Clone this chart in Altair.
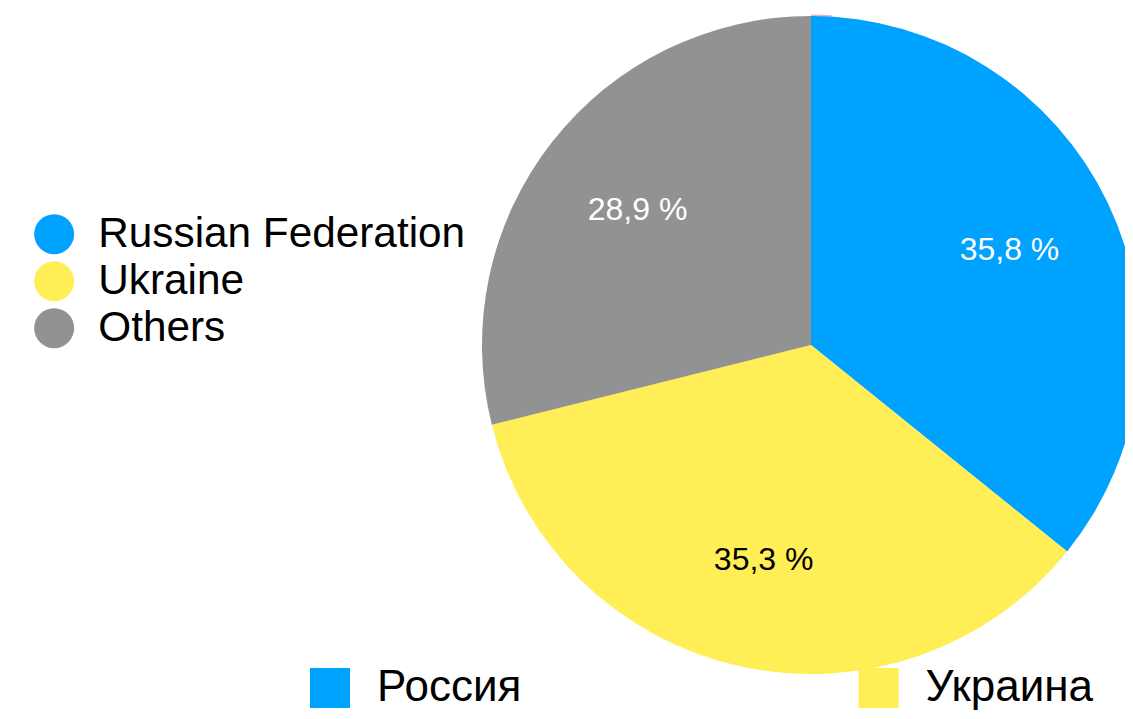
import altair as alt
import pandas as pd

# Data
categories = ["Russian Federation", "Ukraine", "Others"]
shares = [35.8, 35.3, 28.9]
share_labels = ["35,8 %", "35,3 %", "28,9 %"]
label_colors = ["#ffffff", "#000000", "#ffffff"]
slice_colors = ["#00A2FF", "#FFEE55", "#929292"]
ru_names = ["Россия", "Украина"]
ru_colors = ["#00A2FF", "#FFEE55"]

FONT = "Liberation Sans"
CX, CY, R = 803, 337, 329

df = pd.DataFrame({
    "cat": categories,
    "share": shares,
    "label": share_labels,
    "lcolor": label_colors,
    "idx": list(range(len(categories))),
})

color_scale = alt.Scale(domain=categories, range=slice_colors)

outline = alt.Chart(pd.DataFrame({"v": [1]})).mark_arc(
    radius=R + 1.5, color="#eea7ae", opacity=0.9
).encode(
    theta=alt.Theta("v:Q", stack=True),
    x=alt.value(CX), y=alt.value(CY),
)

pie = alt.Chart(df).mark_arc(radius=R, strokeWidth=0).encode(
    theta=alt.Theta("share:Q", stack=True),
    order=alt.Order("idx:Q"),
    color=alt.Color(
        "cat:N", scale=color_scale,
        legend=alt.Legend(
            title=None, orient="none", legendX=25, legendY=205,
            direction="vertical", symbolType="circle", symbolSize=1600,
            symbolStrokeWidth=0, labelFont=FONT, labelFontSize=42.3,
            labelColor="#000000", labelOffset=23, rowPadding=4,
            padding=0, labelLimit=600,
        ),
    ),
    x=alt.value(CX), y=alt.value(CY),
)

text = alt.Chart(df).mark_text(radius=220, font=FONT, fontSize=32).encode(
    theta=alt.Theta("share:Q", stack=True),
    order=alt.Order("idx:Q"),
    text="label:N",
    color=alt.Color("lcolor:N", scale=None),
    x=alt.value(CX), y=alt.value(CY),
)

ru_legend = alt.Chart(pd.DataFrame({"ru": ru_names})).mark_square(
    opacity=0, size=1
).encode(
    fill=alt.Fill(
        "ru:N", scale=alt.Scale(domain=ru_names, range=ru_colors),
        legend=alt.Legend(
            title=None, orient="none", legendX=300, legendY=658,
            direction="horizontal", columns=2, columnPadding=334.5,
            symbolType="square", symbolSize=1600, symbolStrokeWidth=0,
            symbolOpacity=1, labelFont=FONT, labelFontSize=44,
            labelColor="#000000", labelOffset=25, padding=0, labelLimit=600,
        ),
    ),
    x=alt.value(10), y=alt.value(10),
)

chart = alt.layer(outline, pie, text, ru_legend).resolve_scale(
    color="independent"
).properties(
    width=1117, height=703, padding=0,
    autosize=alt.AutoSizeParams(type="none"),
).configure_view(stroke=None)

chart.save("out.html", embed_options={"renderer": "svg", "actions": False})
